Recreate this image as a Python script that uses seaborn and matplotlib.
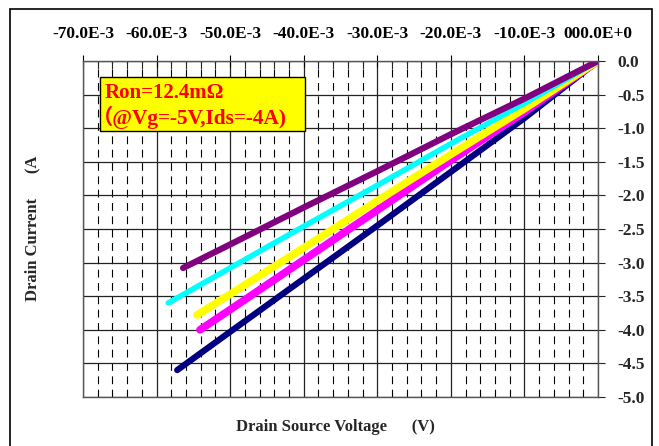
import matplotlib
matplotlib.use("Agg")
import matplotlib.pyplot as plt
import seaborn as sns
import pandas as pd
from matplotlib.patches import Rectangle

# ---- data ----
v_navy = [-0.0572, -0.050, -0.040, -0.030, -0.020, -0.010, 0.0]
i_navy = [-4.60, -4.03, -3.24, -2.45, -1.65, -0.85, 0.0]
v_magenta = [-0.0541, -0.050, -0.040, -0.030, -0.020, -0.010, 0.0]
i_magenta = [-4.00, -3.70, -2.96, -2.22, -1.48, -0.76, 0.0]
v_yellow = [-0.0545, -0.050, -0.040, -0.030, -0.020, -0.010, 0.0]
i_yellow = [-3.78, -3.47, -2.78, -2.08, -1.39, -0.71, 0.0]
v_cyan = [-0.0584, -0.050, -0.040, -0.030, -0.020, -0.010, 0.0]
i_cyan = [-3.60, -3.08, -2.46, -1.85, -1.23, -0.63, 0.0]
v_purple = [-0.0564, -0.050, -0.040, -0.030, -0.020, -0.010, 0.0]
i_purple = [-3.08, -2.73, -2.18, -1.64, -1.09, -0.56, 0.0]

x_ticks = [-0.07, -0.06, -0.05, -0.04, -0.03, -0.02, -0.01, 0.0]
x_tick_labels = ["-70.0E-3", "-60.0E-3", "-50.0E-3", "-40.0E-3",
                 "-30.0E-3", "-20.0E-3", "-10.0E-3", "000.0E+0"]
y_ticks = [0.0, -0.5, -1.0, -1.5, -2.0, -2.5, -3.0, -3.5, -4.0, -4.5, -5.0]
y_tick_labels = ["0.0", "-0.5", "-1.0", "-1.5", "-2.0", "-2.5", "-3.0",
                 "-3.5", "-4.0", "-4.5", "-5.0"]

series = [
    (v_navy, i_navy, "#000080", 4.5),
    (v_magenta, i_magenta, "#ff00ff", 5.5),
    (v_yellow, i_yellow, "#ffff00", 5.5),
    (v_cyan, i_cyan, "#00ffff", 4.0),
    (v_purple, i_purple, "#800080", 4.5),
]

sns.set_theme(style="white")
plt.rcParams["font.family"] = ["Liberation Serif", "Noto Sans CJK SC", "DejaVu Sans"]
plt.rcParams["font.weight"] = "bold"

fig = plt.figure(figsize=(6.59, 4.46), dpi=100)
fig.patch.set_facecolor("white")
ax = fig.add_axes([83 / 659, 1 - 397 / 446, (598 - 83) / 659, (397 - 61) / 446])
ax.set_facecolor("white")

for v, i, c, lw in series:
    df = pd.DataFrame({"V": v, "I": i})
    sns.lineplot(data=df, x="V", y="I", ax=ax, color=c, lw=lw,
                 sort=False, estimator=None, solid_capstyle="round")

ax.set_xlim(-0.07, 0.0)
ax.set_ylim(-5.0, 0.0)
ax.set_xlabel("")
ax.set_ylabel("")

ax.xaxis.tick_top()
ax.yaxis.tick_right()
ax.set_xticks(x_ticks)
ax.set_xticklabels(x_tick_labels, fontsize=12.5, fontweight="bold")
ax.set_xticks([x / 1000 for x in range(-70, 1, 2)], minor=True)
ax.set_yticks(y_ticks)
ax.set_yticklabels(y_tick_labels, fontsize=12.5, fontweight="bold", ha="left")

ax.tick_params(axis="x", which="major", direction="inout", length=8, width=0.8,
               pad=10, colors="black", top=True, bottom=False)
ax.tick_params(axis="x", which="minor", direction="in", length=6, width=0.8,
               top=True, bottom=False)
ax.tick_params(axis="y", which="major", direction="out", length=5, width=0.8,
               pad=9, right=True, left=False)

ax.grid(True, which="major", axis="both", color="#222222", lw=0.9, linestyle="-")
ax.grid(True, which="minor", axis="x", color="black", lw=0.8, linestyle=(0, (7, 5)))
ax.set_axisbelow(True)

for s in ax.spines.values():
    s.set_visible(True)
    s.set_color("#555555")
    s.set_linewidth(1.0)

# annotation box
fig.patches.append(Rectangle((100 / 659, 1 - 131 / 446), 205 / 659, 54 / 446,
                             transform=fig.transFigure, facecolor="#ffff00",
                             edgecolor="black", lw=1.0, zorder=5))
fig.text(105 / 659, 1 - 93 / 446, "Ron=12.4mΩ", color="#ff0000", fontsize=15,
         fontweight="bold", va="center", ha="left", zorder=6)
fig.text(92 / 659, 1 - 117 / 446, "（@Vg=-5V,Ids=-4A)", color="#ff0000", fontsize=15.3,
         fontweight="bold", va="center", ha="left", zorder=6)

# axis labels
fig.text(335 / 659, 1 - 427 / 446, "Drain Source Voltage      (V)", fontsize=12,
         fontweight="bold", ha="center", va="center")
fig.text(32 / 659, 1 - 228 / 446, "Drain Current      (A", fontsize=12,
         fontweight="bold", ha="center", va="center", rotation=90)

# outer frame
fig.patches.append(Rectangle((10 / 659, -0.05), (652 - 10) / 659, 1 - 9 / 446 + 0.05,
                             transform=fig.transFigure, facecolor="none",
                             edgecolor="black", lw=1.2, zorder=0))

fig.savefig("out.png", dpi=100)
